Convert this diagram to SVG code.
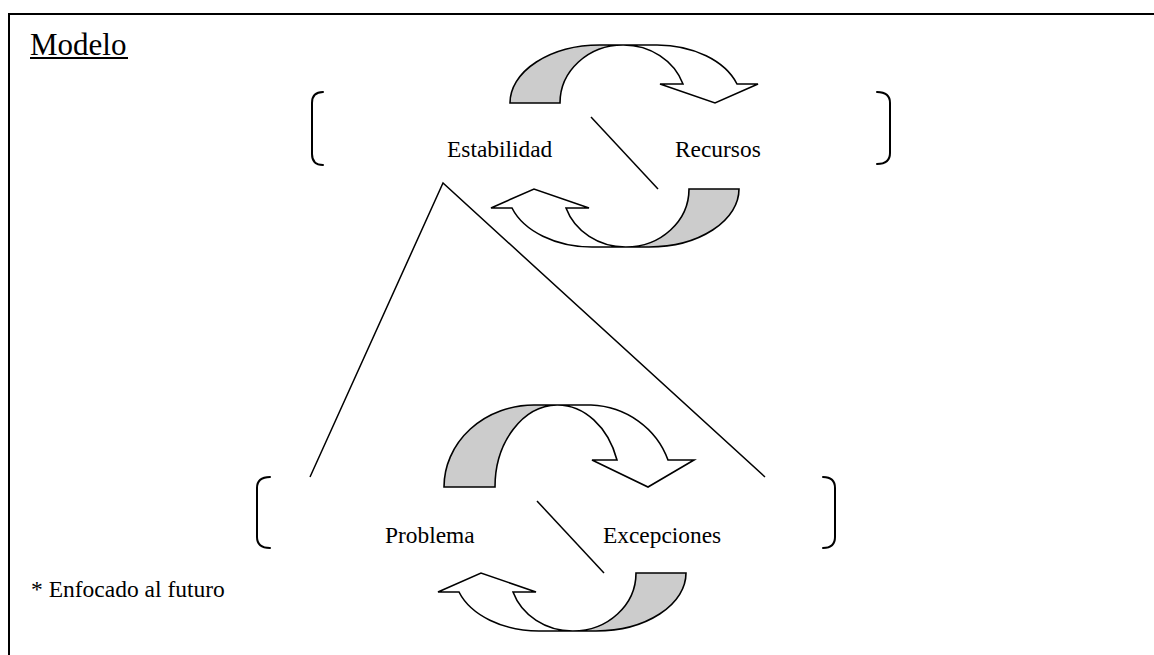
<svg xmlns="http://www.w3.org/2000/svg" width="1154" height="655" viewBox="0 0 1154 655">
  <style>
    .frame { fill: none; stroke: #000; stroke-width: 2; }
    .line { fill: none; stroke: #000; stroke-width: 1.5; }
    .bracket { fill: none; stroke: #000; stroke-width: 2; stroke-linecap: round; }
    .back { fill: #cccccc; stroke: #000; stroke-width: 1.6; stroke-linejoin: miter; }
    .front { fill: #ffffff; stroke: #000; stroke-width: 1.6; stroke-linejoin: miter; }
    text { font-family: "Liberation Serif", "Times New Roman", "DejaVu Serif", serif; fill: #000; }
    .label { font-size: 23.4px; }
    .title { font-size: 31px; }
    .note { font-size: 23.5px; }
  </style>
  <defs>
    <!-- curved ribbon arrow, flat height (58) -->
    <g id="curl">
      <path class="back" d="M0,0 A90,58 0 0 1 90,-58 L113,-58 A63,58 0 0 0 50,0 Z"/>
      <path class="front" d="M113,-58 L147,-58 A85,58 0 0 1 227,-19 L248,-19 L205,0 L150,-19 L173,-19 A63,58 0 0 0 113,-58 Z"/>
    </g>
    <!-- curved ribbon arrow, tall height (82) -->
    <g id="curl-tall">
      <path class="back" d="M0,0 A90,82 0 0 1 90,-82 L113,-82 A63,82 0 0 0 51,0 Z"/>
      <path class="front" d="M113,-82 L147,-82 A85,82 0 0 1 224,-27 L250,-27 L204,0 L148,-27 L173,-27 A63,82 0 0 0 113,-82 Z"/>
    </g>
  </defs>

  <rect width="1154" height="655" fill="#ffffff"/>

  <!-- outer frame: top and left edges -->
  <path class="frame" d="M9,655 L9,14 L1154,14"/>

  <g id="title">
    <text class="title" x="30" y="55">Modelo</text>
    <line x1="30" y1="58" x2="128" y2="58" stroke="#000" stroke-width="2"/>
  </g>

  <g id="connectors">
    <polyline class="line" points="310,477 443,183 765,477"/>
    <line class="line" x1="591" y1="117" x2="658" y2="189"/>
    <line class="line" x1="537" y1="501" x2="604" y2="573"/>
  </g>

  <g id="node-estabilidad-recursos">
    <path class="bracket" d="M323,92 Q312,92 312,103 L312,154 Q312,165 323,165"/>
    <path class="bracket" d="M877,92 Q890,92 890,103 L890,153 Q890,164 877,164"/>
    <use href="#curl" transform="translate(510,103)"/>
    <use href="#curl" transform="translate(739,189) rotate(180)"/>
    <text class="label" x="447" y="157">Estabilidad</text>
    <text class="label" x="675" y="157">Recursos</text>
  </g>

  <g id="node-problema-excepciones">
    <path class="bracket" d="M270,477 Q257,477 257,488 L257,537 Q257,548 270,548"/>
    <path class="bracket" d="M823,477 Q835,477 835,488 L835,537 Q835,548 823,548"/>
    <use href="#curl-tall" transform="translate(444,487)"/>
    <use href="#curl" transform="translate(686,573) rotate(180)"/>
    <text class="label" x="385" y="543">Problema</text>
    <text class="label" x="603" y="543">Excepciones</text>
  </g>

  <g id="footnote">
    <text class="note" x="31" y="597">* Enfocado al futuro</text>
  </g>
</svg>
